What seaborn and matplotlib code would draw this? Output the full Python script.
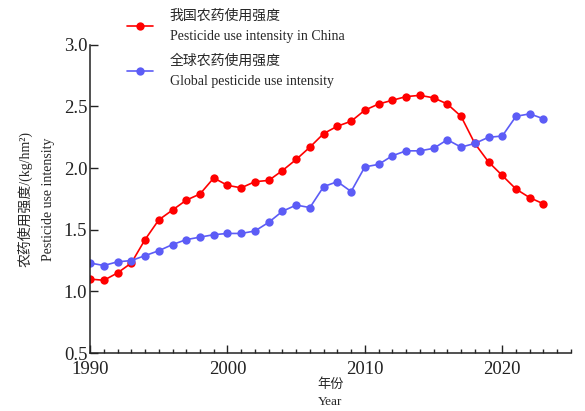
import numpy as np
import pandas as pd
import matplotlib
matplotlib.use("Agg")
import matplotlib.pyplot as plt
import seaborn as sns
from matplotlib.ticker import MultipleLocator

years = list(range(1990, 2024))
china = [1.10, 1.09, 1.15, 1.23, 1.42, 1.58, 1.66, 1.74, 1.79, 1.92,
         1.86, 1.84, 1.89, 1.90, 1.98, 2.07, 2.17, 2.28, 2.34, 2.38,
         2.47, 2.52, 2.55, 2.58, 2.59, 2.57, 2.52, 2.42, 2.20, 2.05,
         1.94, 1.83, 1.76, 1.71]
world = [1.23, 1.21, 1.24, 1.25, 1.29, 1.33, 1.38, 1.42, 1.44, 1.46,
         1.47, 1.47, 1.49, 1.56, 1.65, 1.70, 1.68, 1.85, 1.89, 1.81,
         2.01, 2.03, 2.10, 2.14, 2.14, 2.16, 2.23, 2.17, 2.20, 2.25,
         2.26, 2.42, 2.44, 2.40]
labels = ["我国农药使用强度\nPesticide use intensity in China",
          "全球农药使用强度\nGlobal pesticide use intensity"]
colors = ["#ff0000", "#5c5cf6"]

df = pd.DataFrame({
    "year": years * 2,
    "value": china + world,
    "series": [labels[0]] * len(years) + [labels[1]] * len(years),
})

sns.set_style("ticks")
plt.rcParams['font.family'] = ['Liberation Serif', 'Noto Sans CJK SC']

fig = plt.figure(figsize=(5.85, 4.11), dpi=100)
ax = fig.add_axes([0.154, 0.141, 0.822, 0.75])

sns.lineplot(data=df, x="year", y="value", hue="series", palette=colors,
             marker="o", markersize=6, markeredgewidth=0, linewidth=1.2, ax=ax)

ax.set_xlim(1990, 2025)
ax.set_ylim(0.5, 3.0)
ax.xaxis.set_major_locator(MultipleLocator(10))
ax.xaxis.set_minor_locator(MultipleLocator(1))
ax.yaxis.set_major_locator(MultipleLocator(0.5))
ax.yaxis.set_major_formatter(matplotlib.ticker.FormatStrFormatter("%.1f"))
ax.tick_params(axis="both", which="major", direction="in", length=6, width=1,
               labelsize=13.5, colors="#222222")
ax.tick_params(axis="y", pad=2)
ax.tick_params(axis="x", pad=6)
ax.tick_params(axis="x", which="minor", direction="in", length=3, width=1)
for s in ["top", "right"]:
    ax.spines[s].set_visible(False)
for s in ["left", "bottom"]:
    ax.spines[s].set_linewidth(1.1)
    ax.spines[s].set_color("#222222")

ax.set_xlabel("年份\nYear", fontsize=9.5, linespacing=1.6, labelpad=0)
ax.set_ylabel("农药使用强度/(kg/hm²)\nPesticide use intensity", fontsize=10,
              linespacing=2.0, labelpad=6)

leg = ax.legend(loc="upper left", bbox_to_anchor=(0.05, 1.155), frameon=False,
                fontsize=10, handlelength=1.9, handletextpad=1.2,
                labelspacing=0.85, title=None)
for t in leg.get_texts():
    t.set_linespacing(1.7)

fig.savefig("out.png", dpi=100)
